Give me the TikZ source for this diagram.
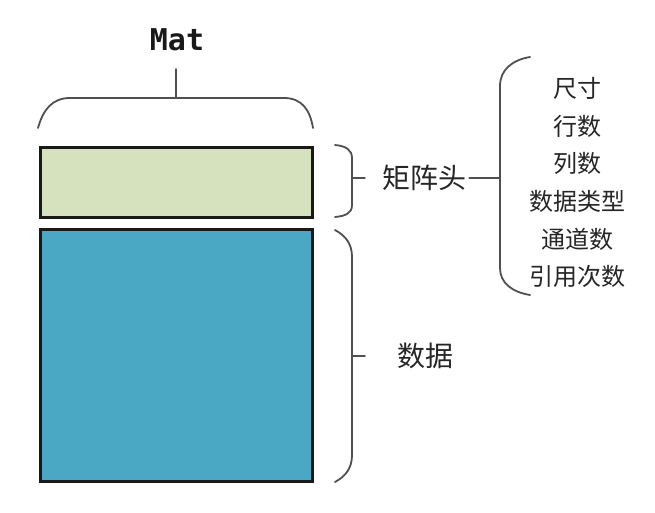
\documentclass[tikz,border=0pt]{standalone}
\usepackage{fontspec}
\newfontfamily\cjk{Noto Sans CJK SC}
\newfontfamily\monof{DejaVu Sans Mono}
\definecolor{headgreen}{RGB}{214,226,190}
\definecolor{datablue}{RGB}{74,168,196}
\definecolor{bracegray}{RGB}{80,80,80}
\begin{document}
\begin{tikzpicture}[x=1pt,y=-1pt,
  box/.style={draw=black!90,line width=3pt,minimum width=272pt,inner sep=0pt,outer sep=0pt},
  bracepath/.style={draw=bracegray,line width=1.8pt,line cap=round},
  lbl/.style={font=\cjk\fontsize{28}{30}\selectfont,inner sep=0pt,text=black!85},
  item/.style={font=\cjk\fontsize{24}{26}\selectfont,inner sep=0pt,text=black!85}]
\fill[white] (0,0) rectangle (655,513);
\useasboundingbox (0,0) rectangle (655,513);
% boxes
\node[box,fill=headgreen,minimum height=69pt] (head) at (176,182.5) {};
\node[box,fill=datablue,minimum height=252pt] (data) at (176,355) {};
% top brace and Mat
\node[font=\monof\bfseries\fontsize{30}{32}\selectfont,inner sep=0pt,text=black!90] (mat) at (177,40) {Mat};
\coordinate (topmid) at (176,98);
\coordinate (toptick) at (176,69);
\draw[bracepath] (38,128) .. controls (43,110) and (52,98) .. (70,98) -- (284,98) .. controls (302,98) and (310,110) .. (313,128);
\draw[bracepath] (topmid) -- (toptick);
% head brace
\draw[bracepath] (335,145) .. controls (346,146) and (352,150) .. (352,158) -- (352,205) .. controls (352,213) and (346,216) .. (335,217);
\coordinate (hb) at (352,178);
\coordinate (hbt) at (365,178);
\draw[bracepath] (hb) -- (hbt);
\node[lbl,anchor=west] (headlbl) at (382,178) {矩阵头};
% right brace
\coordinate (rb) at (500,178);
\draw[bracepath] (530,57) .. controls (512,60) and (500,70) .. (500,86) -- (500,268) .. controls (500,283) and (512,292) .. (530,295);
\draw[bracepath] (headlbl.east) ++(3,0) -- (rb);
\node[item] (i1) at (577,88) {尺寸};
\node[item] (i2) at (577,126) {行数};
\node[item] (i3) at (577,163) {列数};
\node[item] (i4) at (577,201) {数据类型};
\node[item] (i5) at (577,239) {通道数};
\node[item] (i6) at (577,276) {引用次数};
% data brace
\draw[bracepath] (335,230) .. controls (346,236) and (352,244) .. (352,257) -- (352,455) .. controls (352,468) and (346,476) .. (335,482);
\coordinate (db) at (352,356);
\coordinate (dbt) at (365,356);
\draw[bracepath] (db) -- (dbt);
\node[lbl,anchor=west] (datalbl) at (397,356) {数据};
\end{tikzpicture}
\end{document}
